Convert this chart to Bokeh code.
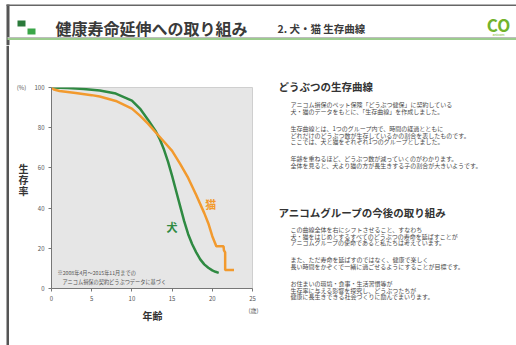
from bokeh.plotting import figure
from bokeh.models import Range1d, FixedTicker, Spacer
from bokeh.layouts import column, row
from bokeh.core.properties import value
from bokeh.embed import file_html
from bokeh.resources import INLINE

# ---------------- data ----------------
dog_age = [0, 2, 4, 6, 8, 10, 11, 12, 13, 13.5, 14, 14.5, 15, 15.5, 16, 16.5, 17, 17.5,
           18, 18.5, 19, 19.5, 20, 20.4, 20.8]
dog_surv = [100, 99.8, 99.3, 98.5, 97, 93.5, 89.5, 84, 78, 74, 69, 63, 56, 48.5, 41, 33.5,
            27, 22, 18, 14.5, 12, 10.3, 9, 8.3, 7.8]
cat_age = [0, 0.3, 1, 3, 5, 6, 8, 10, 11, 12, 13, 14, 15, 16, 17, 18, 19, 19.5, 20, 20.3,
           20.5, 21.4, 21.45, 21.6, 21.6, 22.7]
cat_surv = [100, 99, 98.3, 97.3, 96.2, 95.5, 93.3, 89.5, 86, 82, 77.5, 73, 68.5, 62, 55,
            46.5, 37.5, 32.5, 26, 23, 21, 21, 19, 18, 9.2, 9.2]
x_ticks = [0, 5, 10, 15, 20, 25]
y_ticks = [0, 20, 40, 60, 80, 100]
series_names = ["犬", "猫"]

title = "健康寿命延伸への取り組み"
subtitle = "2. 犬・猫 生存曲線"
y_title = "生存率"
x_title = "年齢"
y_unit = "(%)"
x_unit = "(歳)"
note_lines = ["※2008年4月～2015年11月までの", "アニコム損保の契約どうぶつデータに基づく"]
sec1_head = "どうぶつの生存曲線"
sec1_paras = [
    ["アニコム損保のペット保険「どうぶつ健保」に契約している",
     "犬・猫のデータをもとに、「生存曲線」を作成しました。"],
    ["生存曲線とは、1つのグループ内で、時間の経過とともに",
     "どれだけのどうぶつ数が生存しているかの割合を表したものです。",
     "ここでは、犬と猫をそれぞれ1つのグループとしました。"],
    ["年齢を重ねるほど、どうぶつ数が減っていくのがわかります。",
     "全体を見ると、犬より猫の方が長生きする子の割合が大きいようです。"],
]
sec2_head = "アニコムグループの今後の取り組み"
sec2_paras = [
    ["この曲線全体を右にシフトさせること、すなわち",
     "犬・猫をはじめとするすべてのどうぶつの寿命を延ばすことが",
     "アニコムグループの使命であると私たちは考えています。"],
    ["また、ただ寿命を延ばすのではなく、健康で楽しく",
     "長い時間をかぞくで一緒に過ごせるようにすることが目標です。"],
    ["お住まいの環境・食事・生活習慣等が",
     "生存率に与える影響を探究し、どうぶつたちが",
     "健康に長生きできる社会づくりに励んでまいります。"],
]

GREEN = "#2f8a42"
ORANGE = "#f29a2e"
JP = "Noto Sans CJK JP"
BORDER = "#555555"


def canvas(x0, x1, y0, y1, fill="white"):
    """A plain figure whose frame fills it, in page-pixel coordinates."""
    f = figure(width=x1 - x0, height=y1 - y0, output_backend="svg", toolbar_location=None,
               x_range=Range1d(x0, x1), y_range=Range1d(y1, y0),
               x_axis_location=None, y_axis_location=None, min_border=0)
    f.grid.visible = False
    f.outline_line_color = None
    f.background_fill_color = fill
    f.border_fill_color = fill
    return f


def txt(f, x, y, s, size, color="#4a4a4a", bold=False, align="left"):
    f.text(x=[x], y=[y], text=[s], text_font=value(JP), text_font_size=value(f"{size}px"),
           text_color=color, text_font_style="bold" if bold else "normal",
           text_align=align, text_baseline="middle")


def rect(f, l, r, t, b, color):
    f.quad(left=[l], right=[r], top=[t], bottom=[b], fill_color=color, line_color=None)


# ---------- header ----------
H = canvas(0, 516, 0, 45)
rect(H, 6, 9, 4, 45, BORDER)
rect(H, 6, 516, 4, 5.5, "#666666")
rect(H, 7, 516, 36.5, 37.5, "#bdbdbd")
rect(H, 7, 516, 37.5, 39.5, "#9ccc8e")
rect(H, 17, 25, 20, 26, "#2a7a3a")
rect(H, 27, 35, 28, 34, "#3aa648")
txt(H, 55, 27, title, 16, "#3a3a3a", bold=True)
txt(H, 277, 28, subtitle, 10.5, "#3a3a3a", bold=True)
txt(H, 498, 24, "CO", 17, "#72b32c", bold=True, align="center")
txt(H, 498, 34, "anicom", 3.5, "#72b32c", align="center")

# ---------- slide's left margin and rule (x 0..9, y 45..345) ----------
V = canvas(0, 9, 45, 345)
rect(V, 6, 9, 45, 345, BORDER)

# ---------- left strip ----------
L = canvas(9, 30, 45, 306)
txt(L, 21, 87, y_unit, 6, "#555555", align="center")
for i, ch in enumerate(y_title):
    txt(L, 23, 168 + i * 11, ch, 10, "#333333", bold=True, align="center")

# ---------- chart ----------
FL, FR, FT, FB = 51, 252, 87, 288
C = figure(width=240, height=261, output_backend="svg", toolbar_location=None,
           x_range=Range1d(0, 25), y_range=Range1d(0, 100),
           min_border_left=FL - 30, min_border_right=270 - FR,
           min_border_top=FT - 45, min_border_bottom=306 - FB)
C.background_fill_color = "#e6e6e6"
C.border_fill_color = "white"
C.outline_line_color = "#cfcfcf"
C.grid.visible = False
for ax in (C.xaxis[0], C.yaxis[0]):
    ax.major_label_text_font = JP
    ax.major_label_text_font_size = "6px"
    ax.major_label_text_color = "#555555"
    ax.axis_line_color = "#777777"
    ax.major_tick_line_color = "#777777"
    ax.major_tick_out = 3
    ax.major_tick_in = 0
    ax.minor_tick_line_color = None
    ax.major_label_standoff = 4
C.xaxis[0].ticker = FixedTicker(ticks=x_ticks)
C.yaxis[0].ticker = FixedTicker(ticks=y_ticks)

C.line(dog_age, dog_surv, line_color=GREEN, line_width=2.5)
C.line(cat_age, cat_surv, line_color=ORANGE, line_width=2.5)


def X(px):
    return (px - FL) / (FR - FL) * 25


def Y(py):
    return (FB - py) / (FB - FT) * 100


C.text(x=[15.0, 19.8], y=[30.6, 42], text=series_names, text_font=value(JP),
       text_font_size=value("11px"), text_color=[GREEN, ORANGE], text_font_style="bold",
       text_align="center", text_baseline="middle")
C.text(x=[X(57), X(62)], y=[Y(272), Y(280.5)], text=note_lines, text_font=value(JP),
       text_font_size=value("5.2px"), text_color="#555555",
       text_align="left", text_baseline="middle")

# ---------- bottom strip ----------
B = canvas(9, 270, 306, 345)
txt(B, 253, 309.5, x_unit, 6, "#555555", align="center")
txt(B, 152, 315, x_title, 10, "#333333", bold=True, align="center")

# ---------- right text ----------
T = canvas(270, 516, 45, 345)
txt(T, 278, 86, sec1_head, 10.5, "#333333", bold=True)
ys1 = [[104, 111], [128, 134.5, 141], [158, 164.5]]
for para, ys in zip(sec1_paras, ys1):
    for line, y in zip(para, ys):
        txt(T, 290, y, line, 6)
txt(T, 278, 212, sec2_head, 10.5, "#333333", bold=True)
ys2 = [[229, 235.5, 242], [259, 265.5], [283, 289.5, 296]]
for para, ys in zip(sec2_paras, ys2):
    for line, y in zip(para, ys):
        txt(T, 290, y, line, 6)

chart_block = column(row(column(L), column(C)), B)
body = row(V, chart_block, T)
layout = column(H, body)
open("out.html", "w").write(file_html(layout, INLINE))
